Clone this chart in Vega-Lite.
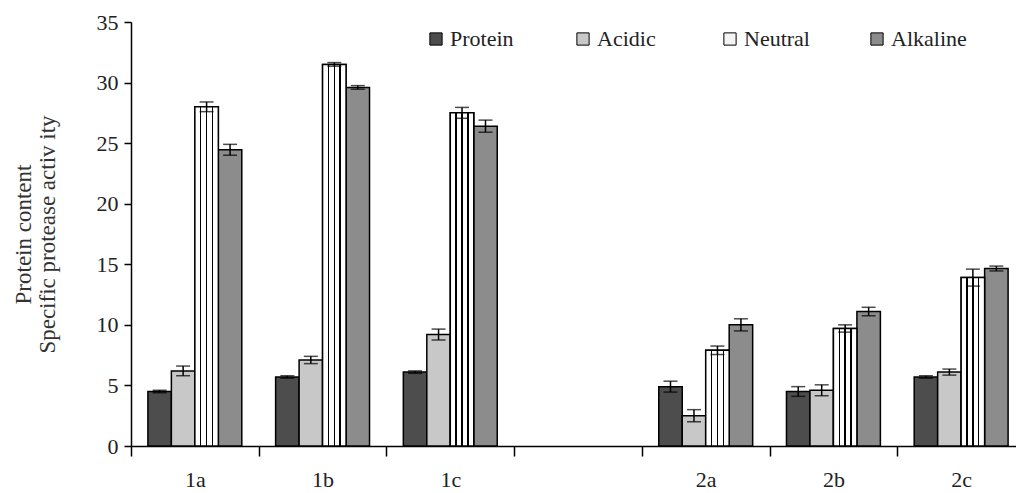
{
  "$schema": "https://vega.github.io/schema/vega-lite/v6.json",
  "width": 885,
  "height": 424,
  "autosize": {"type": "none"},
  "padding": {"left": 131, "top": 22, "right": 0, "bottom": 47},
  "background": "white",
  "config": {"view": {"stroke": null}, "font": "Liberation Serif"},
  "data": {"values": [
    {"group": "1a", "series": "Protein", "value": 4.5, "lo": 4.4, "hi": 4.6},
    {"group": "1a", "series": "Acidic", "value": 6.2, "lo": 5.8, "hi": 6.6},
    {"group": "1a", "series": "Neutral", "value": 28.0, "lo": 27.6, "hi": 28.4},
    {"group": "1a", "series": "Alkaline", "value": 24.45, "lo": 24.0, "hi": 24.9},
    {"group": "1b", "series": "Protein", "value": 5.7, "lo": 5.6, "hi": 5.8},
    {"group": "1b", "series": "Acidic", "value": 7.1, "lo": 6.8, "hi": 7.4},
    {"group": "1b", "series": "Neutral", "value": 31.5, "lo": 31.35, "hi": 31.65},
    {"group": "1b", "series": "Alkaline", "value": 29.6, "lo": 29.45, "hi": 29.75},
    {"group": "1c", "series": "Protein", "value": 6.1, "lo": 6.0, "hi": 6.2},
    {"group": "1c", "series": "Acidic", "value": 9.2, "lo": 8.75, "hi": 9.65},
    {"group": "1c", "series": "Neutral", "value": 27.5, "lo": 27.05, "hi": 27.95},
    {"group": "1c", "series": "Alkaline", "value": 26.4, "lo": 25.9, "hi": 26.9},
    {"group": "2a", "series": "Protein", "value": 4.9, "lo": 4.45, "hi": 5.35},
    {"group": "2a", "series": "Acidic", "value": 2.5, "lo": 2.0, "hi": 3.0},
    {"group": "2a", "series": "Neutral", "value": 7.9, "lo": 7.55, "hi": 8.25},
    {"group": "2a", "series": "Alkaline", "value": 10.0, "lo": 9.5, "hi": 10.5},
    {"group": "2b", "series": "Protein", "value": 4.5, "lo": 4.1, "hi": 4.9},
    {"group": "2b", "series": "Acidic", "value": 4.6, "lo": 4.15, "hi": 5.05},
    {"group": "2b", "series": "Neutral", "value": 9.7, "lo": 9.4, "hi": 10.0},
    {"group": "2b", "series": "Alkaline", "value": 11.1, "lo": 10.75, "hi": 11.45},
    {"group": "2c", "series": "Protein", "value": 5.7, "lo": 5.6, "hi": 5.8},
    {"group": "2c", "series": "Acidic", "value": 6.1, "lo": 5.85, "hi": 6.35},
    {"group": "2c", "series": "Neutral", "value": 13.9, "lo": 13.2, "hi": 14.6},
    {"group": "2c", "series": "Alkaline", "value": 14.65, "lo": 14.45, "hi": 14.85}
  ]},
  "encoding": {
    "x": {
      "field": "group", "type": "nominal", "title": null,
      "scale": {"domain": ["1a", "1b", "1c", "gap", "2a", "2b", "2c"], "range": [0, 894], "paddingInner": 0, "paddingOuter": 0},
      "axis": {
        "labelExpr": "datum.value == 'gap' ? '' : datum.value",
        "tickBand": "extent", "tickSize": 10, "tickWidth": 1.5, "tickColor": "black",
        "domainColor": "black", "domainWidth": 1.5, "labelAngle": 0,
        "labelFontSize": 22, "labelColor": "#222", "labelPadding": 13, "grid": false
      }
    },
    "xOffset": {"field": "series", "type": "nominal", "scale": {"domain": ["Protein", "Acidic", "Neutral", "Alkaline"], "paddingInner": 0, "paddingOuter": 0.72}}
  },
  "layer": [
    {
      "mark": {"type": "bar", "stroke": "black", "strokeWidth": 1.5},
      "encoding": {
        "y": {
          "field": "value", "type": "quantitative",
          "title": ["Protein content", "Specific protease activ ity"],
          "scale": {"domain": [0, 35]},
          "axis": {
            "values": [0, 5, 10, 15, 20, 25, 30, 35], "grid": false,
            "domainColor": "black", "domainWidth": 1.5, "tickColor": "black", "tickWidth": 1.5, "tickSize": 7,
            "labelFontSize": 22, "labelColor": "#222", "labelPadding": 6,
            "titleFontSize": 23, "titleFontWeight": "normal", "titleColor": "#333", "titlePadding": 37, "titleLineHeight": 24
          }
        },
        "color": {
          "field": "series", "type": "nominal",
          "scale": {"domain": ["Protein", "Acidic", "Neutral", "Alkaline"], "range": ["#4d4d4d", "#c8c8c8", "#f4f4f4", "#8c8c8c"]},
          "legend": {
            "orient": "none", "legendX": 294, "legendY": 6, "direction": "horizontal", "columns": 4,
            "title": null, "symbolType": "square", "symbolSize": 150, "symbolStrokeColor": "black", "symbolStrokeWidth": 1,
            "labelFontSize": 22, "labelColor": "#222", "gridAlign": "all", "columnPadding": 46, "labelOffset": 3
          }
        }
      }
    },
    {
      "transform": [{"filter": "datum.series == 'Neutral'"}],
      "mark": {
        "type": "bar", "stroke": "black", "strokeWidth": 1.5,
        "fill": {"gradient": "linear", "x1": 0, "y1": 0, "x2": 1, "y2": 0, "stops": [
          {"offset": 0, "color": "white"}, {"offset": 0.22, "color": "white"},
          {"offset": 0.22, "color": "black"}, {"offset": 0.28, "color": "black"},
          {"offset": 0.28, "color": "white"}, {"offset": 0.47, "color": "white"},
          {"offset": 0.47, "color": "black"}, {"offset": 0.53, "color": "black"},
          {"offset": 0.53, "color": "white"}, {"offset": 0.72, "color": "white"},
          {"offset": 0.72, "color": "black"}, {"offset": 0.78, "color": "black"},
          {"offset": 0.78, "color": "white"}, {"offset": 1, "color": "white"}
        ]}
      },
      "encoding": {"y": {"field": "value", "type": "quantitative", "title": ["Protein content", "Specific protease activ ity"]}}
    },
    {
      "mark": {"type": "rule", "strokeWidth": 1.5, "color": "black"},
      "encoding": {
        "y": {"field": "lo", "type": "quantitative", "title": ["Protein content", "Specific protease activ ity"]},
        "y2": {"field": "hi"}
      }
    },
    {
      "mark": {"type": "tick", "thickness": 1.5, "size": 14, "color": "black", "orient": "horizontal"},
      "encoding": {"y": {"field": "hi", "type": "quantitative", "title": ["Protein content", "Specific protease activ ity"]}}
    },
    {
      "mark": {"type": "tick", "thickness": 1.5, "size": 14, "color": "black", "orient": "horizontal"},
      "encoding": {"y": {"field": "lo", "type": "quantitative", "title": ["Protein content", "Specific protease activ ity"]}}
    }
  ]
}
